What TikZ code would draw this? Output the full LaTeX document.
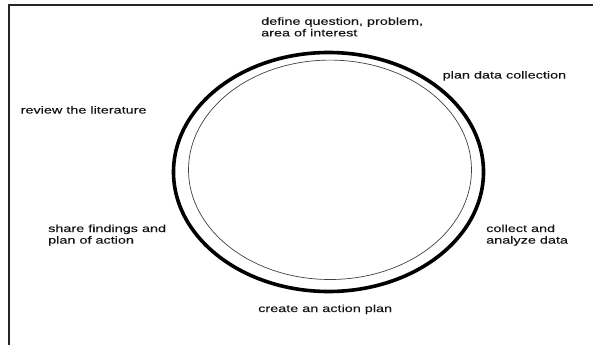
\documentclass[tikz,border=0pt]{standalone}
\usepackage{fontspec}
\newfontfamily\lblfont[FakeStretch=1.4,FakeBold=0.2]{Liberation Sans}
\definecolor{txt}{HTML}{141414}
\begin{document}
\begin{tikzpicture}[x=1pt,y=-1pt,
  lbl/.style={anchor=base west,inner sep=0pt,align=left,text=txt,
    font=\lblfont\fontsize{10.3}{11.6}\selectfont},
  outer/.style={line width=3.6pt,draw=black},
  inner/.style={line width=0.7pt,draw=black!75},
  frame/.style={line width=2pt,draw=black!85}]
\useasboundingbox (0,0) rectangle (593,345);
\draw[frame] (9,345) -- (9,5.5) -- (593,5.5);
\coordinate (oc) at (328.5,172);
\coordinate (ic) at (330,169.8);
\draw[outer] (oc) ellipse [x radius=155, y radius=119.5];
\draw[inner] (ic) ellipse [x radius=141.5, y radius=109.7];
\node[lbl] (def) at (261,36.4) {define question, problem,\\area of interest};
\node[lbl] (pdc) at (442.5,78.5) {plan data collection};
\node[lbl] (rev) at (20.5,113.5) {review the literature};
\node[lbl] (shr) at (48,243.6) {share findings and\\plan of action};
\node[lbl] (col) at (486,243.6) {collect and\\analyze data};
\node[lbl] (cre) at (258,312) {create an action plan};
\end{tikzpicture}
\end{document}
